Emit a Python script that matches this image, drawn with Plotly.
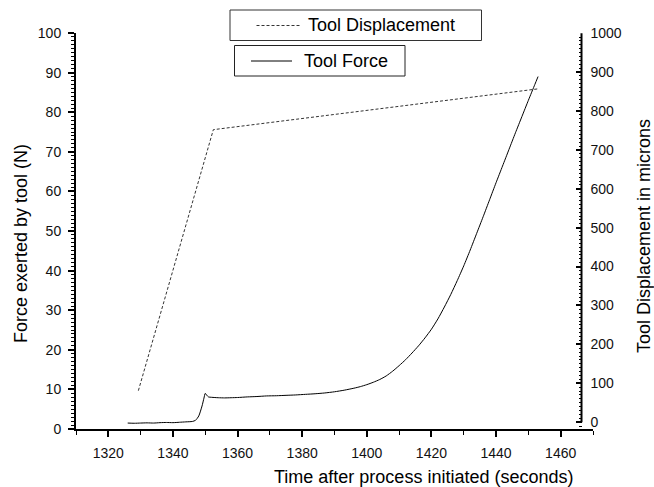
import plotly.graph_objects as go

# ---- data ----
force_time = [1326, 1328, 1330, 1332, 1334, 1336, 1338, 1340, 1342, 1344, 1346, 1347,
              1348, 1349, 1349.6, 1350, 1350.5, 1351, 1352, 1354, 1356, 1358, 1360,
              1363, 1366, 1369, 1372, 1375, 1378, 1381, 1384, 1387, 1390, 1393, 1396,
              1398, 1400, 1402, 1404, 1406, 1408, 1410, 1412, 1414, 1416, 1418, 1420,
              1422, 1424, 1426, 1428, 1430, 1432, 1434, 1436, 1438, 1440, 1442, 1444,
              1446, 1448, 1450, 1452, 1453]
force_N = [1.5, 1.45, 1.5, 1.55, 1.5, 1.6, 1.65, 1.6, 1.7, 1.8, 1.9, 2.2,
           3.3, 5.8, 7.8, 9.0, 8.5, 8.1, 8.0, 7.9, 7.85, 7.9, 7.95,
           8.1, 8.2, 8.35, 8.4, 8.5, 8.6, 8.75, 8.9, 9.1, 9.4, 9.8, 10.3,
           10.7, 11.2, 11.8, 12.5, 13.4, 14.6, 16.0, 17.5, 19.2, 21.0, 23.0, 25.2,
           27.8, 30.8, 34.0, 37.5, 41.2, 45.2, 49.4, 53.6, 57.9, 62.2, 66.4, 70.6,
           74.8, 78.9, 83.0, 87.0, 89.0]

disp_time = [1329.3, 1352.5, 1453.1]
disp_microns = [81, 752, 857]

x_ticks = [1320, 1340, 1360, 1380, 1400, 1420, 1440, 1460]
force_ticks = [0, 10, 20, 30, 40, 50, 60, 70, 80, 90, 100]
disp_ticks = [0, 100, 200, 300, 400, 500, 600, 700, 800, 900, 1000]

FONT = "Liberation Sans, Arial, sans-serif"

fig = go.Figure()
fig.add_trace(go.Scatter(x=force_time, y=force_N, mode="lines", name="Tool Force",
                         line=dict(color="black", width=1, shape="spline", smoothing=0.6),
                         showlegend=False, yaxis="y"))
fig.add_trace(go.Scatter(x=disp_time, y=disp_microns, mode="lines", name="Tool Displacement",
                         line=dict(color="#333333", width=1, dash="3px,2px"),
                         showlegend=False, yaxis="y2"))

W, H = 654, 487
L, R, T, B = 76, 61, 33, 58
pw, ph = W - L - R, H - T - B


def px(x):
    return (x - L) / pw


def py(y):
    return (H - B - y) / ph


shapes = [
    # right axis line (only from 0 to 1000)
    dict(type="line", xref="paper", yref="y2", x0=px(581.5), x1=px(581.5), y0=0, y1=1000,
         line=dict(color="black", width=2)),
    # legend boxes
    dict(type="rect", xref="paper", yref="paper", x0=px(230), x1=px(481.5), y0=py(40.5), y1=py(10),
         line=dict(color="#333333", width=1), fillcolor="white"),
    dict(type="rect", xref="paper", yref="paper", x0=px(234.5), x1=px(405), y0=py(76), y1=py(45.5),
         line=dict(color="#222222", width=1), fillcolor="white"),
    # legend samples
    dict(type="line", xref="paper", yref="paper", x0=px(256.5), x1=px(301), y0=py(25.5), y1=py(25.5),
         line=dict(color="#333333", width=1, dash="3px,2px")),
    dict(type="line", xref="paper", yref="paper", x0=px(251), x1=px(292), y0=py(61), y1=py(61),
         line=dict(color="black", width=1)),
]

annotations = [
    dict(text="Tool Displacement", xref="paper", yref="paper", x=px(306), y=py(25.5),
         xanchor="left", yanchor="middle", showarrow=False, font=dict(size=18, color="black", family=FONT)),
    dict(text="Tool Force", xref="paper", yref="paper", x=px(301.5), y=py(61),
         xanchor="left", yanchor="middle", showarrow=False, font=dict(size=18, color="black", family=FONT)),
    dict(text="Time after process initiated (seconds)", xref="paper", yref="paper",
         x=px(423.5), y=py(477), xanchor="center", yanchor="middle", showarrow=False,
         font=dict(size=18, color="black", family=FONT)),
    dict(text="Force exerted by tool (N)", xref="paper", yref="paper",
         x=px(21), y=py(244), xanchor="center", yanchor="middle", textangle=-90, showarrow=False,
         font=dict(size=18, color="black", family=FONT)),
    dict(text="Tool Displacement in microns", xref="paper", yref="paper",
         x=px(644), y=py(236), xanchor="center", yanchor="middle", textangle=-90, showarrow=False,
         font=dict(size=18, color="black", family=FONT)),
]

fig.update_layout(
    width=W, height=H,
    margin=dict(l=L, r=R, t=T, b=B, pad=0),
    paper_bgcolor="white", plot_bgcolor="white",
    font=dict(family=FONT, size=14, color="black"),
    showlegend=False,
    xaxis=dict(range=[1310, 1470], tickmode="array", tickvals=x_ticks,
               showline=True, linecolor="black", linewidth=2, showgrid=False, zeroline=False,
               ticks="outside", ticklen=6, tickwidth=2, tickcolor="black",
               minor=dict(dtick=10, tick0=1310, ticks="outside", ticklen=4, tickwidth=1,
                          tickcolor="black", showgrid=False),
               tickfont=dict(size=14, color="#111111"), ticklabelstandoff=4),
    yaxis=dict(range=[0, 100], tickmode="array", tickvals=force_ticks,
               showline=True, linecolor="black", linewidth=2, showgrid=False, zeroline=False,
               ticks="outside", ticklen=6, tickwidth=2, tickcolor="black",
               minor=dict(dtick=1, tick0=0, ticks="outside", ticklen=3, tickwidth=1,
                          tickcolor="black", showgrid=False),
               tickfont=dict(size=14, color="#111111"), ticklabelstandoff=4),
    yaxis2=dict(range=[-17.5, 1000.5], tickmode="array", tickvals=disp_ticks,
                overlaying="y", side="right", anchor="free", position=px(581.5),
                showline=False, showgrid=False, zeroline=False,
                ticks="inside", ticklen=6, tickwidth=2, tickcolor="black",
                minor=dict(dtick=10, tick0=0, ticks="inside", ticklen=3, tickwidth=1,
                           tickcolor="black", showgrid=False),
                tickfont=dict(size=14, color="#111111"), ticklabelstandoff=8),
    shapes=shapes,
    annotations=annotations,
)

fig.write_html("out.html")
